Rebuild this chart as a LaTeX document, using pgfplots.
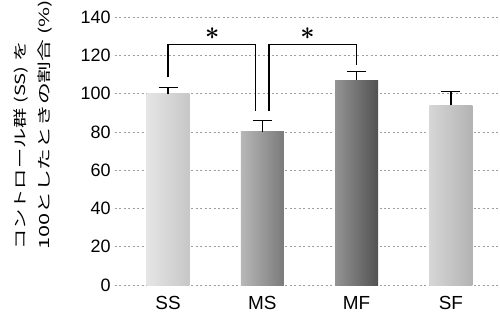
\documentclass[border=0pt]{standalone}
\usepackage{graphicx}
\usepackage{fontspec}
\setmainfont{Liberation Sans}
\newfontfamily\cjk{Noto Sans CJK JP}
\usepackage{pgfplots}
\pgfplotsset{compat=1.18}
\begin{document}
\begin{tikzpicture}
\begin{axis}[
  scale only axis,
  width=385bp, height=268bp,
  xmin=-0.562, xmax=3.52,
  ymin=0, ymax=140,
  xtick={0,1,2,3},
  xticklabels={SS,MS,MF,SF},
  ytick={0,20,...,140},
  axis line style={draw=none},
  major tick length=0pt,
  ymajorgrids,
  grid style={gray!75, line width=0.7pt, dash pattern=on 2pt off 2.5pt},
  /pgf/number format/assume math mode=true,
  yticklabel style={font=\fontsize{18}{18}\selectfont, xshift=-1bp},
  xticklabel style={font=\fontsize{19}{19}\selectfont, yshift=-8bp},
  clip=false,
  error bars/error bar style={black, line width=1.3pt},
  error bars/error mark options={rotate=90, mark size=9.5bp, black, line width=1.3pt},
]
\addplot[ybar, bar width=43bp, bar shift=0pt, draw=none, left color=black!10, right color=black!22,
  error bars/.cd, y dir=plus, y explicit] coordinates {(0,100) +- (0,3)};
\addplot[ybar, bar width=43bp, bar shift=0pt, draw=none, left color=black!28, right color=black!52,
  error bars/.cd, y dir=plus, y explicit] coordinates {(1,80) +- (0,6)};
\addplot[ybar, bar width=43bp, bar shift=0pt, draw=none, left color=black!42, right color=black!68,
  error bars/.cd, y dir=plus, y explicit] coordinates {(2,107) +- (0,4.5)};
\addplot[ybar, bar width=43bp, bar shift=0pt, draw=none, left color=black!16, right color=black!30,
  error bars/.cd, y dir=plus, y explicit] coordinates {(3,94) +- (0,7)};
% significance brackets
\addplot[sharp plot, no marks, black, line width=1.3pt] coordinates {(0,108.5) (0,125.7) (0.93,125.7) (0.93,91)};
\addplot[sharp plot, no marks, black, line width=1.3pt] coordinates {(1.07,91) (1.07,125.7) (2,125.7) (2,115)};
\node[font=\fontsize{34}{34}\selectfont\boldmath] at (axis cs:0.47,131.5) {$\ast$};
\node[font=\fontsize{34}{34}\selectfont\boldmath] at (axis cs:1.48,131.5) {$\ast$};
\end{axis}
\node[rotate=90, anchor=west, inner sep=0pt, font=\cjk\fontsize{14}{25}\selectfont] at (-82.5bp,35bp)
  {\begin{tabular}{@{}l@{}}\scalebox{1.45}[1]{コントロール群 (SS) を}\\\scalebox{1.56}[1]{100としたときの割合 (\%)}\end{tabular}};
\pgfresetboundingbox
\useasboundingbox (-115bp,-35bp) rectangle (385bp,285bp);
\end{tikzpicture}
\end{document}
